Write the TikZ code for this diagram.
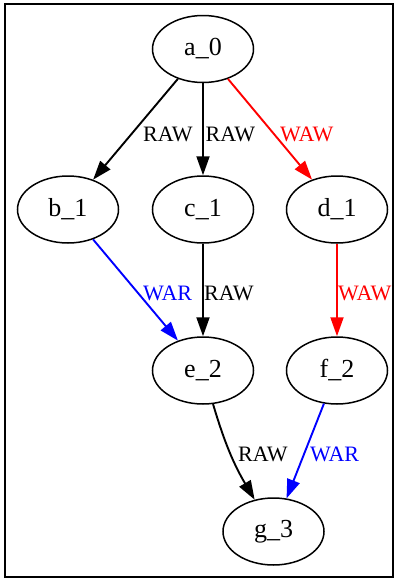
\documentclass[tikz,border=0pt]{standalone}
\usepackage{fontspec}
\setmainfont{Liberation Serif}
\usetikzlibrary{shapes.geometric,arrows.meta}

\begin{document}
\begin{tikzpicture}[x=1pt,y=-1pt,
  op/.style={draw, line width=1.5, ellipse, minimum width=101, minimum height=67,
             inner sep=0pt, font=\fontsize{26}{30}\selectfont},
  dep/.style={line width=1.9, -{Triangle[length=19, width=13]}},
  lbl/.style={anchor=base west, inner sep=0pt, font=\fontsize{22}{26}\selectfont},
  raw/.style={black},
  war/.style={blue},
  waw/.style={red}]
  \useasboundingbox (0,0) rectangle (395,579);

  % outer frame
  \draw[line width=1.4] (393,4) -- (5,4) -- (5,577) -- (393,577) -- cycle;

  % operations
  \node[op] (a0) at (203,49)    {a\_0};
  \node[op] (b1) at (68,209.5)  {b\_1};
  \node[op] (c1) at (203,209.5) {c\_1};
  \node[op] (d1) at (337,209.5) {d\_1};
  \node[op] (e2) at (203,370.5) {e\_2};
  \node[op] (f2) at (337,370.5) {f\_2};
  \node[op] (g3) at (273.5,531.5) {g\_3};

  % dependencies
  \draw[dep,raw] (a0) -- (b1);
  \draw[dep,raw] (a0) -- (c1);
  \draw[dep,waw] (a0) -- (d1);
  \draw[dep,war] (b1) -- (e2);
  \draw[dep,raw] (c1) -- (e2);
  \draw[dep,waw] (d1) -- (f2);
  \draw[dep,raw] (e2) to[bend right=7] (g3);
  \draw[dep,war] (f2) -- (g3);

  % dependency kinds
  \node[lbl,raw] (lab) at (143,141.5)   {RAW};
  \node[lbl,raw] (lac) at (205.5,141.5) {RAW};
  \node[lbl,waw] (lad) at (280,141.5)   {WAW};
  \node[lbl,war] (lbe) at (143,300.5)   {WAR};
  \node[lbl,raw] (lce) at (204,300.5)   {RAW};
  \node[lbl,waw] (ldf) at (338,300.5)   {WAW};
  \node[lbl,raw] (leg) at (238,461)     {RAW};
  \node[lbl,war] (lfg) at (310,461)     {WAR};
\end{tikzpicture}
\end{document}
